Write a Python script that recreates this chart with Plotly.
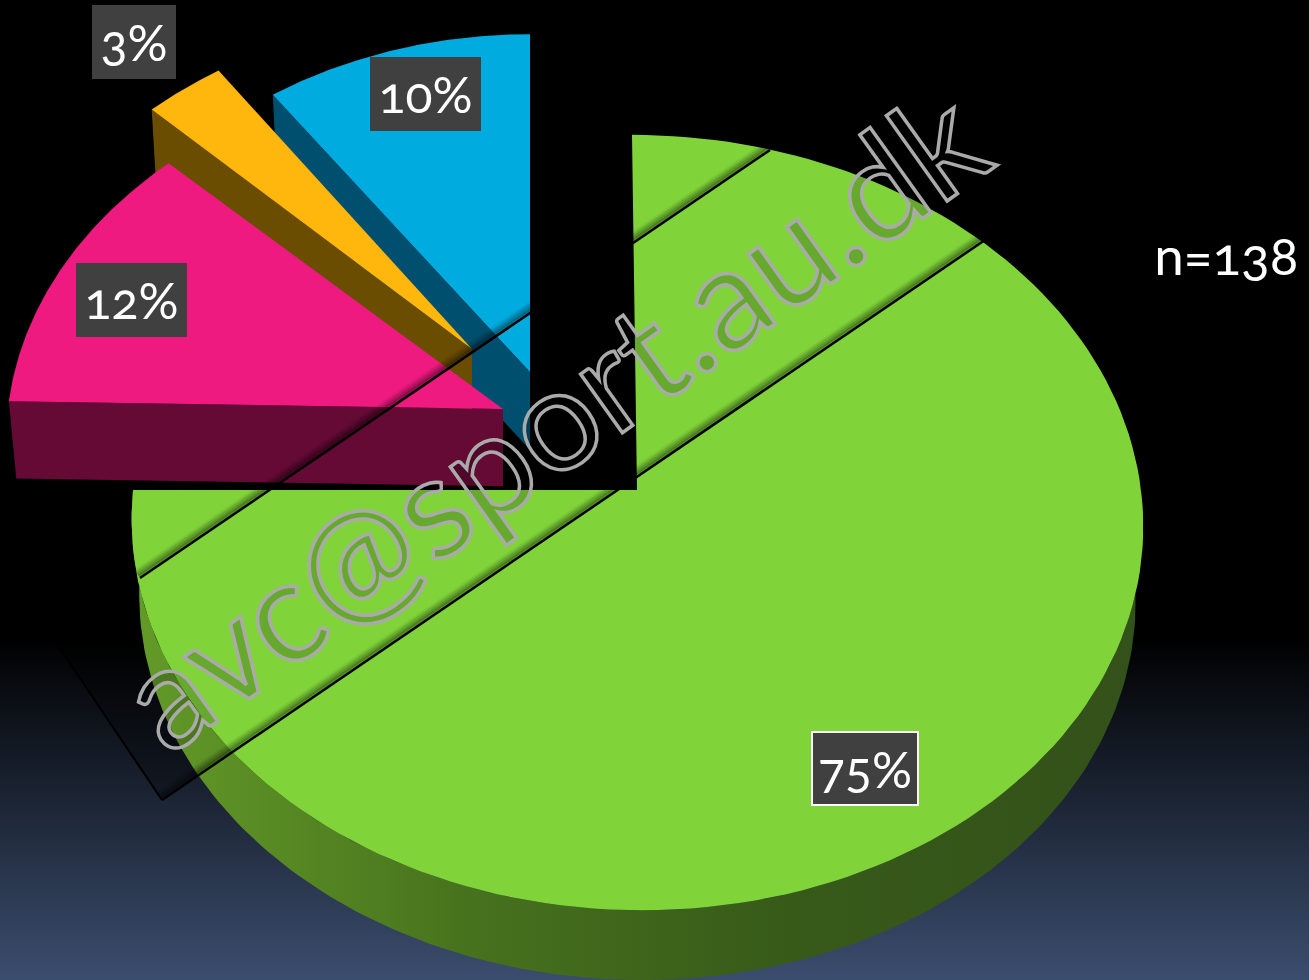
import numpy as np
import plotly.graph_objects as go

# Slices, clockwise from twelve o'clock
slice_values = [75, 12, 3, 10]
slice_labels = ['75%', '12%', '3%', '10%']
top_colors = ['#80d43a', '#ee1a80', '#ffb60d', '#00acdf']
wall_colors = ['#375a19', '#640a35', '#6b4d00', '#004f6e']
# Pulled-out position of each slice tip, and small per-slice drawing tweaks
tip_x = [637, 503, 472, 530]
tip_y = [490, 409, 349, 372]
spread_x = [1, 1.0, 0.97, 0.95]
turn = [0, 1.2, 1.2, 0]
lean = [-5, 0, 0, 0]
label_x = [865, 131, 134, 425]
label_y = [768, 300, 42, 94]
label_w = [104, 111, 84, 111]
label_h = [71, 74, 74, 74]

sample_note = 'n=138'
watermark = 'avc@sport.au.dk'

# Perspective of the pie plane, in page pixels
radius_x, radius_y = 504, 385
tilt = 0.084
depth_drop, depth_scale = 76, 0.985


def arc(i, start, stop, lower=False):
    # plane height of the tip sets how far back the slice sits
    base_v = (apex_y - tip_y[i]) / (radius_y - tilt * (apex_y - tip_y[i]))
    t = np.radians(np.linspace(start, stop, 160) + turn[i])
    u, v = spread_x[i] * np.sin(t), np.cos(t)
    w = 1 + tilt * (base_v + v)
    v_total = base_v + v
    x = tip_x[i] + radius_x * u / w + lean[i] * v
    y = apex_y - radius_y * v_total / w
    if lower:
        x = tip_x[i] + depth_scale * (x - tip_x[i])
        y = apex_y + depth_drop - depth_scale * (apex_y - y)
    return x, y


def poly(x, y, color, gradient=None):
    trace = dict(x=x, y=y, mode='lines', fill='toself', line=dict(width=0),
                 hoverinfo='skip', showlegend=False)
    if gradient:
        trace['fillgradient'] = gradient
    else:
        trace['fillcolor'] = color
    return go.Scatter(**trace)


apex_y = tip_y[0]

fig = go.Figure()

# Background fades from black to navy in the lower third
fig.add_trace(poly([0, 1309, 1309, 0, 0], [0, 0, 980, 980, 0], None, gradient=dict(
    type='vertical',
    colorscale=[[0, '#3b4d6e'], [0.35, '#000000'], [1, '#000000']])))

# Shadow of the diagonal band over the background
fig.add_trace(poly([52, 162, 400, 290, 52], [637, 800, 638, 475, 637], 'rgba(0,0,0,0.3)'))

# Wedges drawn back to front, each with its visible side walls
sweeps = np.cumsum([0] + [v * 3.6 for v in slice_values])
draw_order = [0, 3, 2, 1]
for i in draw_order:
    a0, a1 = sweeps[i], sweeps[i + 1]
    ax, ay = tip_x[i], tip_y[i]
    bx = ax
    by = apex_y + depth_drop - depth_scale * (apex_y - ay)
    if i == 0:
        # outer wall of the large slice, front half only
        tx, ty = arc(i, 90, 270)
        lx, ly = arc(i, 90, 270, lower=True)
        fig.add_trace(poly(np.r_[tx, lx[::-1], tx[0]], np.r_[ty, ly[::-1], ty[0]], None, gradient=dict(
            type='horizontal',
            colorscale=[[0, '#639b28'], [0.35, '#46701d'], [0.65, '#375a19'], [1, '#33511a']])))
    else:
        # radial wall on the start edge of the slice
        ex, ey = arc(i, a0, a0)
        fx, fy = arc(i, a0, a0, lower=True)
        fig.add_trace(poly([ex[0], ax, bx, fx[0], ex[0]], [ey[0], ay, by, fy[0], ey[0]], wall_colors[i]))
    tx, ty = arc(i, a0, a1)
    fig.add_trace(poly(np.r_[ax, tx, ax], np.r_[ay, ty, ay], top_colors[i]))

# Diagonal band lines with their soft shadows
band_lines = [(140, 578, 770, 150), (162, 800, 985, 240)]
shapes = []
for x0, y0, x1, y1 in band_lines:
    for off, width, alpha in [(8, 4, 0.06), (6, 4, 0.12), (4, 4, 0.18), (2.5, 3, 0.28)]:
        shapes.append(dict(type='line', x0=x0 - 0.56 * off, y0=y0 - 0.83 * off, x1=x1 - 0.56 * off, y1=y1 - 0.83 * off,
                           line=dict(color='rgba(0,0,0,%s)' % alpha, width=width), layer='above'))
    shapes.append(dict(type='line', x0=x0, y0=y0, x1=x1, y1=y1, line=dict(color='#000000', width=2.5), layer='above'))
shapes.append(dict(type='line', x0=162, y0=800, x1=52, y1=637, line=dict(color='#000000', width=2), layer='above'))

annotations = []
for i, text in enumerate(slice_labels):
    annotations.append(dict(
        x=label_x[i], y=label_y[i], text=text, showarrow=False,
        width=label_w[i], height=label_h[i], bgcolor='#404040',
        bordercolor='#ffffff' if i == 0 else '#404040', borderwidth=2 if i == 0 else 0, borderpad=0,
        font=dict(family='Lato', size=50, color='#ffffff')))
annotations.append(dict(x=1226, y=254, text=sample_note, showarrow=False,
                        font=dict(family='Lato', size=53, color='#ffffff')))
annotations.append(dict(x=551, y=416, text=watermark, showarrow=False, textangle=-35.5,
                        font=dict(family='Lato', size=142, color='rgba(0,0,0,0.2)')))

fig.update_layout(
    width=1309, height=980,
    margin=dict(l=0, r=0, t=0, b=0),
    paper_bgcolor='#000000', plot_bgcolor='#000000',
    xaxis=dict(range=[0, 1309], visible=False, fixedrange=True),
    yaxis=dict(range=[980, 0], visible=False, fixedrange=True),
    shapes=shapes, annotations=annotations,
)

# Old-style figures and the hollow watermark need plain CSS on the drawn text
post_script = """
document.body.style.margin = '0';
document.body.style.overflow = 'hidden';
document.querySelectorAll('.annotation-text').forEach(function (el) {
    el.style.fontFeatureSettings = '"onum"';
    if (el.textContent.indexOf('@') >= 0) {
        el.style.stroke = '#aaaaaa';
        el.style.strokeWidth = '3.5px';
    }
});
"""
fig.write_html("out.html", post_script=post_script, config=dict(displayModeBar=False))
